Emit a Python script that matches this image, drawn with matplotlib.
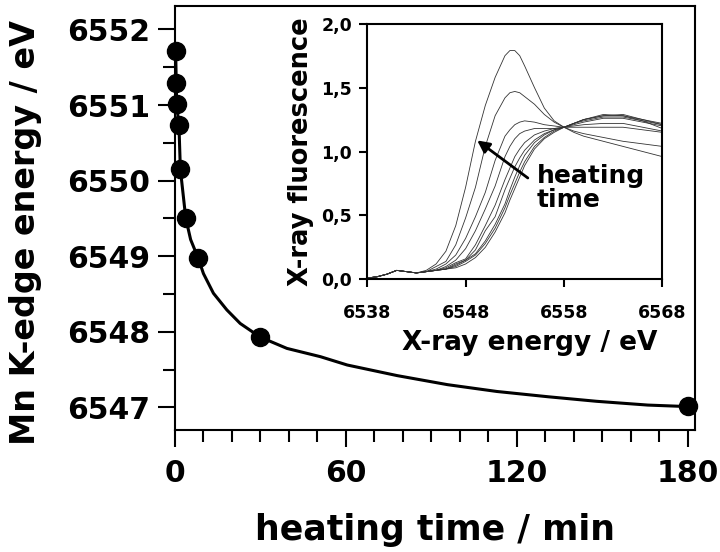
import numpy as np
import matplotlib
matplotlib.use('Agg')
import matplotlib.pyplot as plt
from matplotlib.ticker import MultipleLocator, FuncFormatter

plt.rcParams['font.family'] = 'DejaVu Sans'
plt.rcParams['font.weight'] = 'bold'

# edge energy vs heating time (points)
time_pts = [0.24, 0.24, 0.6, 1.4, 1.9, 3.8, 8.2, 29.9, 180]
edge_pts = [6551.72, 6551.29, 6551.01, 6550.73, 6550.15, 6549.50, 6548.97, 6547.93, 6547.02]

# fitted curve
time_fit = [0.24, 0.6, 1.4, 1.9, 3.8, 5.5, 8.2, 10.0, 13.5, 18.2, 22.9, 29.9, 39.3, 51.1,
            60.5, 78, 95.7, 113, 131, 148, 166, 180]
edge_fit = [6551.72, 6551.01, 6550.73, 6550.15, 6549.50, 6549.22, 6548.97, 6548.77, 6548.51,
            6548.29, 6548.11, 6547.93, 6547.78, 6547.67, 6547.56, 6547.42, 6547.30, 6547.21,
            6547.14, 6547.08, 6547.03, 6547.01]

# inset spectra
energy = [6538, 6539, 6540, 6541, 6542, 6543, 6544, 6545, 6546, 6547, 6548, 6549, 6550, 6551,
          6552, 6552.5, 6553, 6553.5, 6554, 6555, 6556, 6557, 6558, 6559, 6560, 6562, 6564, 6566, 6568]
pre = [0.01, 0.02, 0.04, 0.07, 0.06, 0.05]
spec_a = pre + [0.07, 0.12, 0.22, 0.42, 0.72, 1.08, 1.36, 1.58, 1.75, 1.79, 1.79, 1.75, 1.67, 1.50, 1.34, 1.24, 1.19, 1.15, 1.12, 1.08, 1.04, 1.00, 0.96]
spec_b = pre + [0.06, 0.10, 0.14, 0.27, 0.48, 0.72, 1.04, 1.28, 1.42, 1.46, 1.47, 1.46, 1.43, 1.37, 1.29, 1.23, 1.19, 1.16, 1.14, 1.11, 1.08, 1.06, 1.04]
spec_c = pre + [0.06, 0.08, 0.12, 0.19, 0.32, 0.49, 0.68, 0.93, 1.12, 1.17, 1.21, 1.23, 1.24, 1.23, 1.21, 1.20, 1.19, 1.19, 1.19, 1.19, 1.19, 1.17, 1.15]
spec_d = pre + [0.06, 0.07, 0.10, 0.15, 0.24, 0.38, 0.55, 0.73, 0.96, 1.04, 1.10, 1.14, 1.16, 1.18, 1.18, 1.18, 1.19, 1.20, 1.21, 1.22, 1.22, 1.19, 1.16]
spec_e = pre + [0.06, 0.07, 0.09, 0.13, 0.16, 0.27, 0.42, 0.58, 0.78, 0.87, 0.96, 1.02, 1.07, 1.13, 1.16, 1.18, 1.19, 1.21, 1.23, 1.26, 1.26, 1.23, 1.20]
spec_f = pre + [0.06, 0.07, 0.08, 0.12, 0.15, 0.23, 0.38, 0.49, 0.70, 0.79, 0.88, 0.95, 1.01, 1.09, 1.14, 1.17, 1.19, 1.22, 1.24, 1.27, 1.27, 1.24, 1.21]
spec_g = pre + [0.06, 0.07, 0.08, 0.11, 0.15, 0.20, 0.30, 0.43, 0.59, 0.70, 0.80, 0.89, 0.97, 1.07, 1.13, 1.17, 1.19, 1.22, 1.25, 1.28, 1.28, 1.25, 1.22]
spec_h = pre + [0.06, 0.07, 0.08, 0.10, 0.14, 0.19, 0.28, 0.40, 0.56, 0.66, 0.75, 0.84, 0.92, 1.04, 1.11, 1.16, 1.19, 1.22, 1.25, 1.28, 1.29, 1.25, 1.21]
spec_i = pre + [0.06, 0.07, 0.08, 0.09, 0.12, 0.17, 0.25, 0.37, 0.52, 0.62, 0.71, 0.80, 0.89, 1.02, 1.10, 1.15, 1.19, 1.22, 1.25, 1.29, 1.28, 1.24, 1.18]
spectra = [spec_a, spec_b, spec_c, spec_d, spec_e, spec_f, spec_g, spec_h, spec_i]

fig = plt.figure(figsize=(7.2, 5.52), dpi=100)
ax = fig.add_axes([0.243, 0.221, 0.722, 0.768])

ax.plot(time_fit, edge_fit, color='black', lw=2.2)
ax.plot(time_pts, edge_pts, 'o', color='black', ms=13, clip_on=False, zorder=5)

ax.set_xlim(0, 182.5)
ax.set_ylim(6546.70, 6552.31)
ax.xaxis.set_major_locator(MultipleLocator(60))
ax.xaxis.set_minor_locator(MultipleLocator(10))
ax.yaxis.set_major_locator(MultipleLocator(1))
ax.yaxis.set_minor_locator(MultipleLocator(0.5))
ax.yaxis.set_major_formatter(FuncFormatter(lambda v, p: '%d' % v))
ax.tick_params(which='major', direction='out', length=12, width=1.5, labelsize=21.5, pad=6)
ax.tick_params(axis='x', which='major', pad=9)
ax.tick_params(which='minor', direction='out', length=8.5, width=1.5)
for s in ax.spines.values():
    s.set_linewidth(1.5)
ax.set_xlabel('heating time / min', fontsize=25, fontweight='bold', labelpad=18)
ax.set_ylabel('Mn K-edge energy / eV', fontsize=24, fontweight='bold')
ax.yaxis.set_label_coords(-0.255, 0.465)

# inset
axi = fig.add_axes([0.510, 0.494, 0.410, 0.463])
for sp in spectra:
    axi.plot(energy, sp, color='#333333', lw=0.6)
axi.set_xlim(6538, 6568)
axi.set_ylim(0, 2)
axi.set_xticks([6538, 6548, 6558, 6568])
axi.set_yticks([0, 0.5, 1.0, 1.5, 2.0])
axi.yaxis.set_major_formatter(FuncFormatter(lambda v, p: ('%.1f' % v).replace('.', ',')))
axi.tick_params(direction='out', length=6, width=1.5, labelsize=12.5, pad=5)
axi.tick_params(axis='x', pad=12)
for s in axi.spines.values():
    s.set_linewidth(1.5)
axi.set_xlabel('X-ray energy / eV', fontsize=19, fontweight='bold')
axi.xaxis.set_label_coords(0.55, -0.2)
axi.set_ylabel('X-ray fluorescence', fontsize=18.5, fontweight='bold', labelpad=5)

axi.annotate('', xy=(6548.95, 1.10), xytext=(6554.55, 0.78),
             arrowprops=dict(arrowstyle='-|>', color='black', lw=2, mutation_scale=18))
axi.text(6555.2, 0.90, 'heating\ntime', fontsize=18, fontweight='bold', ha='left', va='top',
         linespacing=1.0)

fig.savefig('out.png', dpi=100)
